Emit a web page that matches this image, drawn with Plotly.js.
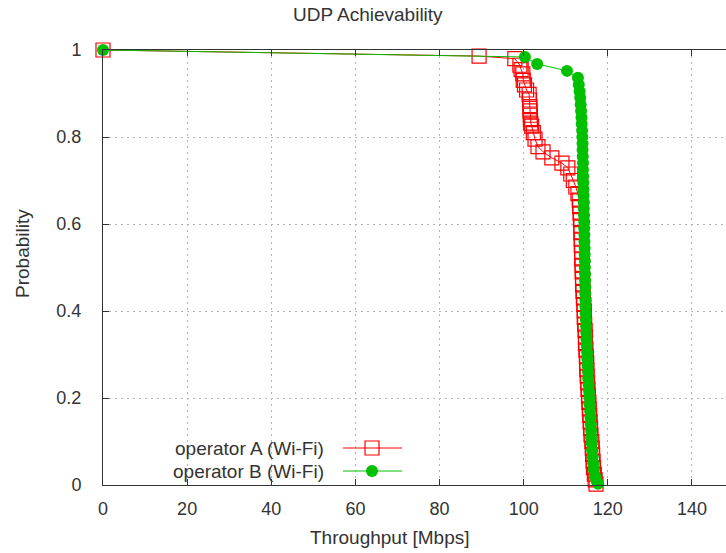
<!DOCTYPE html>
<html>
<head>
<meta charset="utf-8">
<script src="https://cdn.plot.ly/plotly-3.0.1.min.js"></script>
<style>html,body{margin:0;padding:0;background:#fff;}#chart{width:726px;height:553px;}</style>
</head>
<body>
<div id="chart"></div>
<script>
// ---- Data ----
const chartTitle = "UDP Achievability";
const xTitle = "Throughput [Mbps]";
const yTitle = "Probability";
const seriesNames = ["operator A (Wi-Fi)", "operator B (Wi-Fi)"];
const xTicks = [0, 20, 40, 60, 80, 100, 120, 140];
const yTicks = [0, 0.2, 0.4, 0.6, 0.8, 1];

const opA_x = [0, 89.4, 97.9, 99.1, 99.4, 99.8, 99.9, 100.2, 100.7, 101.3, 101.4, 101.5, 101.5, 101.6, 101.6, 101.7, 101.9, 102.3, 102.7, 103.4, 104.6, 106.7, 109.1, 110.5, 111.2,
  111.8, 112.4, 112.9, 113.2, 113.3, 113.4, 113.5, 113.6, 113.6, 113.7, 113.7, 113.8, 113.8, 113.9, 113.9, 114.0, 114.0, 114.1, 114.2, 114.3, 114.4, 114.4, 114.5, 114.6, 114.7, 114.7,
  114.8, 114.9, 115.0, 115.0, 115.1, 115.2, 115.3, 115.4, 115.5, 115.6, 115.7, 115.8, 115.9, 116.0, 116.2, 116.3, 116.4, 116.5, 116.6, 116.8, 117.0, 117.2];
const opA_y = [1, 0.986, 0.980, 0.965, 0.955, 0.945, 0.930, 0.920, 0.908, 0.898, 0.885, 0.870, 0.860, 0.850, 0.840, 0.832, 0.825, 0.810, 0.795, 0.778, 0.766, 0.752, 0.740, 0.729, 0.715,
  0.700, 0.685, 0.670, 0.655, 0.640, 0.625, 0.610, 0.595, 0.580, 0.565, 0.550, 0.535, 0.520, 0.505, 0.490, 0.475, 0.460, 0.445, 0.430, 0.415, 0.400, 0.385, 0.370, 0.355, 0.340, 0.325,
  0.310, 0.295, 0.280, 0.265, 0.250, 0.235, 0.220, 0.205, 0.190, 0.175, 0.160, 0.145, 0.130, 0.115, 0.100, 0.085, 0.070, 0.055, 0.040, 0.025, 0.012, 0.002];

const opB_x = [0, 100.3, 103.2, 110.3, 112.9, 113.1, 113.3, 113.45, 113.55, 113.65, 113.75, 113.8, 113.9, 113.95, 114.0, 114.0, 114.05, 114.1, 114.1, 114.15, 114.2, 114.2, 114.25, 114.3,
  114.3, 114.35, 114.4, 114.4, 114.45, 114.45, 114.5, 114.5, 114.55, 114.55, 114.6, 114.6, 114.65, 114.65, 114.7, 114.7, 114.75, 114.8, 114.85, 114.9, 114.95, 115.0, 115.1, 115.15,
  115.2, 115.3, 115.35, 115.45, 115.55, 115.65, 115.7, 115.8, 115.9, 115.95, 116.05, 116.1, 116.2, 116.3, 116.4, 116.55, 116.7, 117.0, 117.3, 117.7];
const opB_y = [1, 0.984, 0.968, 0.952, 0.936, 0.920, 0.905, 0.890, 0.875, 0.860, 0.845, 0.830, 0.815, 0.800, 0.785, 0.770, 0.755, 0.740, 0.725, 0.710, 0.695, 0.680, 0.665, 0.650,
  0.635, 0.620, 0.605, 0.590, 0.575, 0.560, 0.545, 0.530, 0.515, 0.500, 0.485, 0.470, 0.455, 0.440, 0.425, 0.410, 0.395, 0.380, 0.365, 0.350, 0.335, 0.320, 0.305, 0.290,
  0.275, 0.260, 0.245, 0.230, 0.215, 0.200, 0.185, 0.170, 0.155, 0.140, 0.125, 0.110, 0.095, 0.080, 0.065, 0.050, 0.035, 0.020, 0.010, 0.003];

// ---- Styles ----
const RED = "rgb(255,0,0)";
const GREEN = "rgb(0,192,0)";
const TXT = "#333333";
const FONT = "Liberation Sans, Arial, sans-serif";

const traces = [
  {x: opA_x, y: opA_y, name: seriesNames[0], type: "scatter", mode: "lines+markers",
   line: {color: RED, width: 1},
   marker: {symbol: "square-open", size: 14, color: RED, line: {color: RED, width: 1.2}},
   cliponaxis: false, showlegend: false},
  {x: opB_x, y: opB_y, name: seriesNames[1], type: "scatter", mode: "lines+markers",
   line: {color: GREEN, width: 1},
   marker: {symbol: "circle", size: 12, color: GREEN},
   cliponaxis: false, showlegend: false}
];

const L = 103, T = 50, W = 726, H = 553, B = 68, R = 0;
const pw = W - L - R, ph = H - T - B;
function px(xp) { return (xp - L) / pw; }
function py(yp) { return (H - B - yp) / ph; }

const legRows = [448, 471];
const legTextRight = 326, legLine0 = 343, legLine1 = 402, legMark = 372;

const annotations = [
  {text: chartTitle, xref: "paper", yref: "paper", x: px(368), y: py(15), xanchor: "center", yanchor: "middle", showarrow: false, font: {family: FONT, size: 19, color: TXT}},
  {text: xTitle, xref: "paper", yref: "paper", x: px(389), y: py(537), xanchor: "center", yanchor: "middle", showarrow: false, font: {family: FONT, size: 19, color: TXT}},
  {text: yTitle, xref: "paper", yref: "paper", x: px(22), y: py(254), xanchor: "center", yanchor: "middle", textangle: -90, showarrow: false, font: {family: FONT, size: 19, color: TXT}}
];
seriesNames.forEach((n, i) => {
  annotations.push({text: n, xref: "paper", yref: "paper", x: px(legTextRight), y: py(legRows[i]), xanchor: "right", yanchor: "middle", showarrow: false, font: {family: FONT, size: 19, color: TXT}});
});

const shapes = [];
[RED, GREEN].forEach((c, i) => {
  shapes.push({type: "line", xref: "paper", yref: "paper", x0: px(legLine0), x1: px(legLine1), y0: py(legRows[i]), y1: py(legRows[i]), line: {color: c, width: 1}});
});
shapes.push({type: "rect", xref: "paper", yref: "paper", xsizemode: "pixel", ysizemode: "pixel", xanchor: px(legMark), yanchor: py(legRows[0]), x0: -7, x1: 7, y0: -7, y1: 7, line: {color: RED, width: 1.2}, fillcolor: "rgba(0,0,0,0)"});
shapes.push({type: "circle", xref: "paper", yref: "paper", xsizemode: "pixel", ysizemode: "pixel", xanchor: px(legMark), yanchor: py(legRows[1]), x0: -6, x1: 6, y0: -6, y1: 6, line: {color: GREEN, width: 0}, fillcolor: GREEN});

const axisCommon = {
  ticks: "inside", ticklen: 6, tickcolor: TXT, tickwidth: 1,
  showline: true, linecolor: TXT, linewidth: 1,
  showgrid: true, gridcolor: "#b4b4b4", gridwidth: 1, griddash: "2px,4px",
  zeroline: false, tickfont: {family: FONT, size: 18, color: TXT}
};

const layout = {
  width: W, height: H,
  margin: {l: L, r: R, t: T, b: B, pad: 0},
  paper_bgcolor: "#fff", plot_bgcolor: "#fff",
  showlegend: false,
  xaxis: Object.assign({}, axisCommon, {range: [0, 148.1], tickvals: xTicks, mirror: "ticks", ticklabelstandoff: 7}),
  yaxis: Object.assign({}, axisCommon, {range: [0, 1], tickvals: yTicks, mirror: false, ticklabelstandoff: 17}),
  annotations: annotations,
  shapes: shapes
};

Plotly.newPlot("chart", traces, layout, {staticPlot: true, displayModeBar: false});
</script>
</body>
</html>
